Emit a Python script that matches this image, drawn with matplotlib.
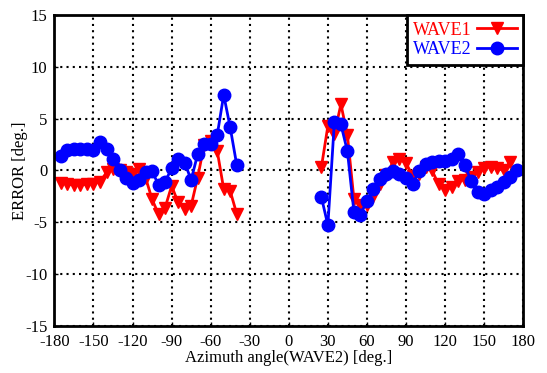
import matplotlib
matplotlib.use("Agg")
import matplotlib.pyplot as plt
import numpy as np

plt.rcParams['font.family'] = ['Liberation Serif', 'DejaVu Serif']
plt.rcParams['axes.unicode_minus'] = False

# WAVE1 (red) — two segments
wave1_x_left = [-175, -170, -165, -160, -155, -150, -145, -140, -135, -130, -125, -120, -115, -110,
                -105, -100, -95, -90, -85, -80, -75, -70, -65, -60, -55, -50, -45, -40]
wave1_y_left = [-1.2, -1.35, -1.4, -1.4, -1.35, -1.3, -1.1, -0.2, 0.1, 0.0, -0.2, -0.3, 0.1, -0.7,
                -2.8, -4.25, -3.6, -1.5, -3.1, -3.7, -3.4, -0.7, 2.5, 2.8, 1.9, -1.8, -2.0, -4.2]
wave1_x_right = [25, 30, 35, 40, 45, 50, 55, 60, 65, 70, 75, 80, 85, 90, 95, 100, 105, 110, 115,
                 120, 125, 130, 135, 140, 145, 150, 155, 160, 165, 170]
wave1_y_right = [0.3, 4.3, 3.5, 6.4, 3.4, -2.8, -3.3, -3.3, -2.5, -1.3, -0.4, 0.8, 1.1, 0.7, -0.5,
                 -0.3, 0.3, 0.0, -1.35, -1.9, -1.6, -1.0, -0.9, -0.6, -0.2, 0.26, 0.33, 0.2, 0.0, 0.85]

# WAVE2 (blue) — two segments
wave2_x_left = wave1_x_left
wave2_y_left = [1.4, 1.96, 2.05, 2.05, 2.1, 2.0, 2.7, 2.05, 1.1, 0.0, -0.7, -1.18, -0.95, -0.2,
                -0.1, -1.4, -1.1, 0.2, 1.08, 0.76, -0.92, 1.57, 2.54, 2.54, 3.4, 7.3, 4.15, 0.53]
wave2_x_right = [25, 30, 35, 40, 45, 50, 55, 60, 65, 70, 75, 80, 85, 90, 95, 100, 105, 110, 115,
                 120, 125, 130, 135, 140, 145, 150, 155, 160, 165, 170, 175]
wave2_y_right = [-2.57, -5.3, 4.7, 4.45, 1.85, -4.0, -4.3, -2.95, -1.76, -0.8, -0.3, -0.1, -0.37,
                 -0.75, -1.34, -0.1, 0.6, 0.85, 0.9, 0.95, 1.1, 1.6, 0.55, -1.0, -2.1, -2.3, -1.9,
                 -1.6, -1.15, -0.6, 0.0]

xticks = list(range(-180, 181, 30))
yticks = list(range(-15, 16, 5))

fig = plt.figure(figsize=(5.47, 3.73), dpi=100)
ax = fig.add_axes([0.0995, 0.1273, 0.857, 0.8317])

red = '#ff0000'
blue = '#0000ff'
kw1 = dict(color=red, marker='v', markersize=8.5, linewidth=2, markeredgecolor=red)
kw2 = dict(color=blue, marker='o', markersize=9, linewidth=2, markeredgecolor=blue)

l1, = ax.plot(wave1_x_left, wave1_y_left, label='WAVE1', **kw1)
ax.plot(wave1_x_right, wave1_y_right, **kw1)
l2, = ax.plot(wave2_x_left, wave2_y_left, label='WAVE2', **kw2)
ax.plot(wave2_x_right, wave2_y_right, **kw2)

ax.set_xlim(-180, 180)
ax.set_ylim(-15, 15)
ax.set_xticks(xticks)
ax.set_yticks(yticks)
ax.tick_params(direction='in', length=3, width=1, labelsize=12)
ax.tick_params(axis='x', pad=6)
ax.tick_params(axis='y', pad=5)
ax.grid(True, color='black', linestyle=(0, (1, 2)), linewidth=1.5)
ax.set_axisbelow(True)
for s in ax.spines.values():
    s.set_linewidth(2)

ax.set_xlabel('Azimuth angle(WAVE2) [deg.]', fontsize=12, labelpad=0)
ax.set_ylabel('ERROR [deg.]', fontsize=12, labelpad=-2)

leg = ax.legend(handles=[l1, l2], loc='upper right', borderaxespad=0, markerfirst=False,
                fontsize=13, frameon=True, fancybox=False, handlelength=2.2,
                handletextpad=0.3, borderpad=0.35, labelspacing=0.15, framealpha=1)
leg.get_frame().set_edgecolor('black')
leg.get_frame().set_linewidth(2)
for t, c in zip(leg.get_texts(), [red, blue]):
    t.set_color(c)

fig.savefig('out.png', dpi=100)
